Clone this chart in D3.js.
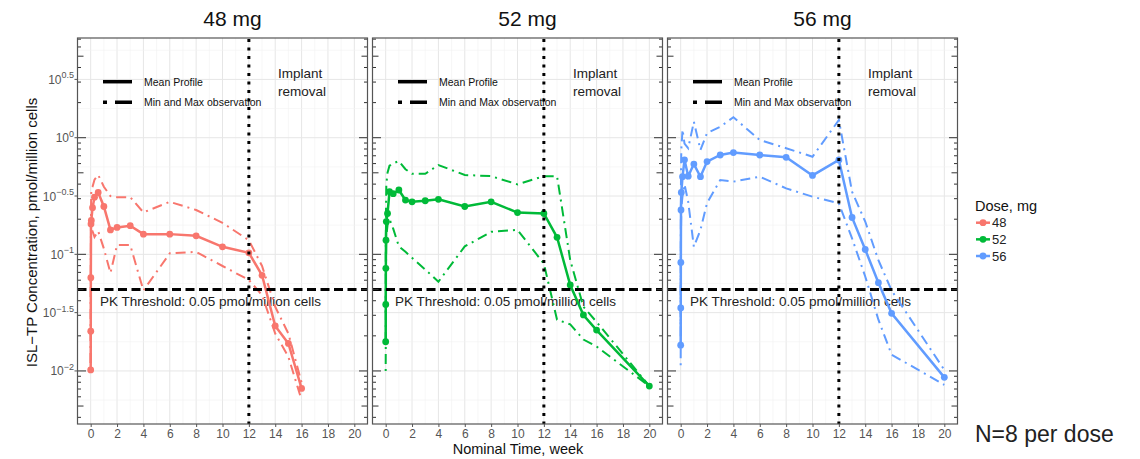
<!DOCTYPE html>
<html>
<head>
<meta charset="utf-8">
<script src="https://cdn.jsdelivr.net/npm/d3@7"></script>
<style>
body { margin: 0; background: #fff; }
svg text { font-family: "Liberation Sans", Arial, sans-serif; }
</style>
</head>
<body>
<div id="chart"></div>
<script>
// doses and colours
var doses = ["48", "52", "56"];
var doseColors = ["#F8766D", "#00BA38", "#619CFF"];

// nominal time, week
var weeks48 = [0, 0.006, 0.012, 0.024, 0.048, 0.14, 0.29, 0.57, 1, 1.5, 2, 3, 4, 6, 8, 10, 12, 13, 14, 15, 16];
var weeks52 = [0, 0.006, 0.012, 0.024, 0.048, 0.14, 0.29, 0.57, 1, 1.5, 2, 3, 4, 6, 8, 10, 12, 13, 14, 15, 16, 20];
var weeks56 = [0, 0.006, 0.012, 0.024, 0.048, 0.14, 0.29, 0.57, 1, 1.5, 2, 3, 4, 6, 8, 10, 12, 13, 14, 15, 16, 20];

// ISL-TP concentration, pmol/million cells
var mean48 = [0.0102, 0.0219, 0.0631, 0.182, 0.195, 0.251, 0.309, 0.339, 0.257, 0.162, 0.170, 0.176, 0.149, 0.149, 0.144, 0.116, 0.103, 0.0661, 0.0243, 0.0172, 0.00708];
var max48 = [0.0102, 0.0251, 0.0794, 0.251, 0.355, 0.380, 0.437, 0.479, 0.380, 0.316, 0.309, 0.309, 0.229, 0.282, 0.240, 0.186, 0.132, 0.0794, 0.0355, 0.0209, 0.00794];
var min48 = [0.0102, 0.0200, 0.0562, 0.141, 0.158, 0.158, 0.141, 0.158, 0.112, 0.0692, 0.120, 0.120, 0.0490, 0.102, 0.105, 0.0794, 0.0603, 0.0447, 0.0209, 0.0132, 0.00562];

var mean52 = [0.0178, 0.0372, 0.0759, 0.132, 0.191, 0.224, 0.344, 0.331, 0.356, 0.292, 0.282, 0.288, 0.296, 0.257, 0.282, 0.228, 0.224, 0.140, 0.0546, 0.0302, 0.0224, 0.00741];
var max52 = [0.0316, 0.0631, 0.126, 0.251, 0.398, 0.501, 0.575, 0.603, 0.631, 0.537, 0.490, 0.490, 0.583, 0.479, 0.468, 0.398, 0.468, 0.468, 0.0891, 0.0355, 0.0263, 0.00741];
var min52 = [0.0100, 0.0158, 0.0316, 0.0794, 0.141, 0.178, 0.200, 0.166, 0.117, 0.105, 0.0933, 0.0741, 0.0582, 0.117, 0.156, 0.162, 0.0832, 0.0275, 0.0251, 0.0186, 0.0162, 0.00741];

var mean56 = [0.0166, 0.0347, 0.0851, 0.240, 0.339, 0.463, 0.646, 0.468, 0.594, 0.463, 0.624, 0.711, 0.745, 0.711, 0.679, 0.475, 0.644, 0.207, 0.110, 0.0571, 0.0312, 0.00881];
var max56 = [0.0251, 0.0631, 0.158, 0.501, 0.794, 1.175, 0.891, 0.813, 1.371, 0.785, 1.096, 1.242, 1.496, 0.955, 0.813, 0.687, 1.419, 0.344, 0.191, 0.0891, 0.0490, 0.0102];
var min56 = [0.0112, 0.0251, 0.0631, 0.158, 0.251, 0.316, 0.398, 0.282, 0.116, 0.162, 0.275, 0.434, 0.420, 0.463, 0.368, 0.312, 0.274, 0.137, 0.0646, 0.0275, 0.0138, 0.00759];

var xTicks = [0, 2, 4, 6, 8, 10, 12, 14, 16, 18, 20];
var yTickExps = ["-2", "-1.5", "-1", "-0.5", "0", "0.5"];
var threshold = 0.05;
var removalWeek = 12;

var series = [
    { w: weeks48, mean: mean48, lo: min48, hi: max48 },
    { w: weeks52, mean: mean52, lo: min52, hi: max52 },
    { w: weeks56, mean: mean56, lo: min56, hi: max56 }
];

var W = 1140, Hs = 459;
var panelLeft = [77.5, 372.5, 667.5], P = 290, panelTop = 38, H = 386;

var svg = d3.select("#chart").append("svg")
    .attr("width", W).attr("height", Hs);

var x = d3.scaleLinear().domain([-1, 21]).range([0, P]);
var y = d3.scaleLog().domain([Math.pow(10, -2.455), Math.pow(10, 0.855)]).range([H, 0]);

var line = d3.line()
    .x(function (d) { return x(d[0]); })
    .y(function (d) { return y(d[1]); });

// log tick positions (annotation_logticks style)
var logTicks = [];
for (var n = -3; n <= 0; n++) {
    for (var k = 1; k <= 9; k++) {
        var v = k * Math.pow(10, n);
        if (v >= y.domain()[0] && v <= y.domain()[1]) logTicks.push({ v: v, k: k });
    }
}

function zip(a, b) {
    return a.map(function (d, i) { return [d, b[i]]; });
}

function tickLen(d) {
    return d.k == 1 ? 8.5 : (d.k == 5 ? 6 : 3.5);
}

for (var i = 0; i < doses.length; i++) {
    var s = series[i];
    var col = doseColors[i];
    var g = svg.append("g").attr("transform", "translate(" + panelLeft[i] + "," + panelTop + ")");

    g.append("rect").attr("width", P).attr("height", H).attr("fill", "#fff");

    // grid
    var minorX = d3.range(1, 21, 2);
    g.selectAll(".gxm").data(minorX).enter().append("line")
        .attr("x1", function (d) { return x(d); }).attr("x2", function (d) { return x(d); })
        .attr("y1", 0).attr("y2", H).attr("stroke", "#F2F2F2").attr("stroke-width", 0.6);
    g.selectAll(".gx").data(xTicks).enter().append("line")
        .attr("x1", function (d) { return x(d); }).attr("x2", function (d) { return x(d); })
        .attr("y1", 0).attr("y2", H).attr("stroke", "#E6E6E6").attr("stroke-width", 1);
    var minorY = d3.range(-2.25, 1, 0.5);
    g.selectAll(".gym").data(minorY).enter().append("line")
        .attr("y1", function (d) { return y(Math.pow(10, d)); }).attr("y2", function (d) { return y(Math.pow(10, d)); })
        .attr("x1", 0).attr("x2", P).attr("stroke", "#F2F2F2").attr("stroke-width", 0.6);
    g.selectAll(".gy").data(yTickExps).enter().append("line")
        .attr("y1", function (d) { return y(Math.pow(10, +d)); }).attr("y2", function (d) { return y(Math.pow(10, +d)); })
        .attr("x1", 0).attr("x2", P).attr("stroke", "#E6E6E6").attr("stroke-width", 1);

    // inner legend
    g.append("line").attr("x1", 25.5).attr("x2", 54.5).attr("y1", 43.7).attr("y2", 43.7)
        .attr("stroke", "#000").attr("stroke-width", 3.5);
    g.append("line").attr("x1", 25.5).attr("x2", 54.5).attr("y1", 64.3).attr("y2", 64.3)
        .attr("stroke", "#000").attr("stroke-width", 3.5).attr("stroke-dasharray", "4,8,17");
    g.append("text").attr("x", 66.5).attr("y", 47.5).attr("font-size", 10.5).attr("fill", "#111").text("Mean Profile");
    g.append("text").attr("x", 66.5).attr("y", 68).attr("font-size", 10.5).attr("fill", "#111").text("Min and Max observation");

    g.append("text").attr("x", 200.5).attr("y", 39.7).attr("font-size", 13.5).attr("fill", "#222").text("Implant");
    g.append("text").attr("x", 200.5).attr("y", 58).attr("font-size", 13.5).attr("fill", "#222").text("removal");

    g.append("text").attr("x", 22.5).attr("y", 268).attr("font-size", 13.5).attr("fill", "#222")
        .text("PK Threshold: 0.05 pmol/million cells");

    // min / max lines
    g.append("path").datum(zip(s.w, s.hi)).attr("d", line).attr("fill", "none")
        .attr("stroke", col).attr("stroke-width", 2).attr("stroke-dasharray", "2,5,10,5");
    g.append("path").datum(zip(s.w, s.lo)).attr("d", line).attr("fill", "none")
        .attr("stroke", col).attr("stroke-width", 2).attr("stroke-dasharray", "2,5,10,5");

    // mean profile
    g.append("path").datum(zip(s.w, s.mean)).attr("d", line).attr("fill", "none")
        .attr("stroke", col).attr("stroke-width", 2.5);
    g.selectAll(".pt").data(zip(s.w, s.mean)).enter().append("circle")
        .attr("cx", function (d) { return x(d[0]); }).attr("cy", function (d) { return y(d[1]); })
        .attr("r", 3.4).attr("fill", col);

    // reference lines
    g.append("line").attr("x1", 0).attr("x2", P).attr("y1", y(threshold)).attr("y2", y(threshold))
        .attr("stroke", "#000").attr("stroke-width", 3).attr("stroke-dasharray", "9,4.5");
    g.append("line").attr("x1", x(removalWeek)).attr("x2", x(removalWeek)).attr("y1", 1).attr("y2", H)
        .attr("stroke", "#000").attr("stroke-width", 3).attr("stroke-dasharray", "3,5.5");

    // log ticks left and right
    g.selectAll(".ltl").data(logTicks).enter().append("line")
        .attr("x1", 0).attr("x2", tickLen)
        .attr("y1", function (d) { return y(d.v); }).attr("y2", function (d) { return y(d.v); })
        .attr("stroke", "#333").attr("stroke-width", 1);
    g.selectAll(".ltr").data(logTicks).enter().append("line")
        .attr("x1", P).attr("x2", function (d) { return P - tickLen(d); })
        .attr("y1", function (d) { return y(d.v); }).attr("y2", function (d) { return y(d.v); })
        .attr("stroke", "#333").attr("stroke-width", 1);

    // border
    g.append("rect").attr("width", P).attr("height", H).attr("fill", "none")
        .attr("stroke", "#555").attr("stroke-width", 1.2);

    // x axis
    var xa = g.append("g").attr("transform", "translate(0," + H + ")")
        .call(d3.axisBottom(x).tickValues(xTicks).tickSize(3).tickPadding(2));
    xa.select(".domain").remove();
    xa.selectAll(".tick line").attr("stroke", "#555");
    xa.selectAll("text").attr("font-size", 12).attr("fill", "#555")
        .style("font-family", "'Liberation Sans', Arial, sans-serif");

    // panel title
    svg.append("text").attr("x", panelLeft[i] + P / 2 + 10).attr("y", 26)
        .attr("text-anchor", "middle").attr("font-size", 21).attr("fill", "#111")
        .text(doses[i] + " mg");

    // y axis only on first panel
    if (i == 0) {
        var ya = g.append("g");
        yTickExps.forEach(function (e) {
            var yy = y(Math.pow(10, +e));
            ya.append("line").attr("x1", -3).attr("x2", 0).attr("y1", yy).attr("y2", yy)
                .attr("stroke", "#555");
            var t = ya.append("text").attr("x", -3.5).attr("y", yy + 4.5)
                .attr("text-anchor", "end").attr("font-size", 12).attr("fill", "#555");
            t.append("tspan").text("10");
            t.append("tspan").attr("dy", -5.5).attr("font-size", 9).text(e.replace("-", "\u2212"));
        });
    }
}

// axis titles
svg.append("text")
    .attr("transform", "translate(37,232.5) rotate(-90)")
    .attr("text-anchor", "middle").attr("font-size", 15).attr("fill", "#111")
    .text("ISL\u2212TP Concentration, pmol/million cells");
svg.append("text").attr("x", 518).attr("y", 454)
    .attr("text-anchor", "middle").attr("font-size", 14.5).attr("fill", "#111")
    .text("Nominal Time, week");

// dose legend
var lg = svg.append("g").attr("transform", "translate(975,0)");
lg.append("text").attr("x", 0).attr("y", 211).attr("font-size", 14.5).attr("fill", "#111").text("Dose, mg");
var keyY = d3.scalePoint().domain(doses).range([222.7, 256]);
doses.forEach(function (d, j) {
    var yy = keyY(d);
    lg.append("line").attr("x1", 1).attr("x2", 15).attr("y1", yy).attr("y2", yy)
        .attr("stroke", doseColors[j]).attr("stroke-width", 2.5);
    lg.append("circle").attr("cx", 8).attr("cy", yy).attr("r", 3.4).attr("fill", doseColors[j]);
    lg.append("text").attr("x", 17).attr("y", yy + 4.5).attr("font-size", 13).attr("fill", "#222").text(d);
});

svg.append("text").attr("x", 975).attr("y", 442).attr("font-size", 23).attr("fill", "#222")
    .text("N=8 per dose");
</script>
</body>
</html>
